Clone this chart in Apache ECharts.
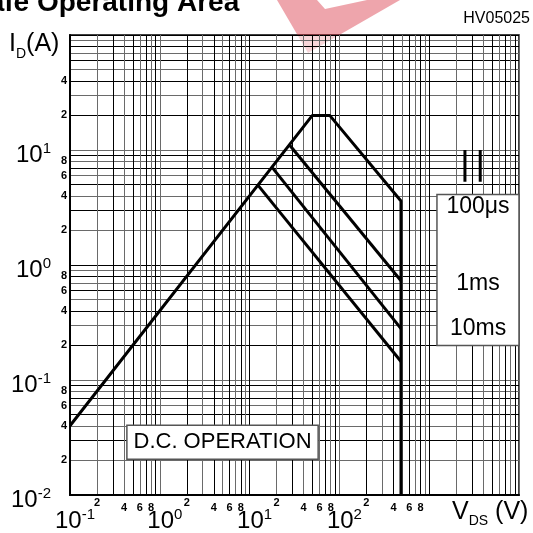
<!DOCTYPE html>
<html>
<head>
<meta charset="utf-8">
<title>Safe Operating Area</title>
<script src="https://cdn.jsdelivr.net/npm/echarts@6.0.0/dist/echarts.min.js"></script>
<style>
  html, body { margin: 0; padding: 0; background: #fff; }
  #chart { width: 533px; height: 533px; }
</style>
</head>
<body>
<div id="chart"></div>
<script>
const FONT = '"Liberation Sans", Arial, sans-serif'

// axis extents (log-log)
const vdsMin = 0.1, vdsMax = 10000
const idMin = 0.01, idMax = 100

// decades + steps inside a decade (grid lines, tick labels)
const vdsDecades = [0.1, 1, 10, 100, 1000]
const idDecades = [0.01, 0.1, 1, 10]
const gridSteps = [1, 2, 3, 4, 5, 6, 7, 8, 9]
const labelSteps = [2, 4, 6, 8]
const vdsLabelDecades = [0.1, 1, 10, 100]
const idLabelDecades = [0.01, 0.1, 1, 10]

// SOA limits, [V_DS (V), I_D (A)]
const limit100us = [[0.1, 0.04], [50, 20], [78, 20], [485, 3.6], [485, 0.01]]
const limit1ms = [[28, 11], [485, 0.73]]
const limit10ms = [[18, 7], [485, 0.28]]
const limitDC = [[12.5, 4.9], [485, 0.145]]
// two short heavy strokes in the right margin
const strokeA = [[2500, 10], [2500, 5.3]]
const strokeB = [[3700, 10], [3700, 5.3]]

// curve names and where they are written
const curveLabels = ['100μs', '1ms', '10ms']
const curveLabelAt = [[3500, 3.2], [3500, 0.69], [3500, 0.28]]
// white panels behind the texts
const legendPanel = [[1220, 4.1], [10000, 0.2]]
const dcPanel = [[0.43, 0.0404], [58, 0.0205]]

const clean = (v) => +v.toPrecision(3)
const vdsGrid = vdsDecades.flatMap((d) => gridSteps.map((s) => clean(d * s))).concat(vdsMax)
const idGrid = idDecades.flatMap((d) => gridSteps.map((s) => clean(d * s))).concat(idMax)
const vdsMinorLabels = vdsLabelDecades.flatMap((d) => labelSteps.map((s) => clean(d * s)))
const idMinorLabels = idDecades
  .flatMap((d) => labelSteps.map((s) => clean(d * s)))
  .filter((v) => v < 50)

const gridColors = ['#000', '#6a6a6a']

const leadDigit = (v) => Math.round(v / Math.pow(10, Math.floor(Math.log10(v) + 1e-9)))
const decadeText = (v) => `{b|10}{e|${Math.round(Math.log10(v))}}`
const decadeRich = {
  b: { fontFamily: FONT, fontSize: 24, color: '#000', lineHeight: 28 },
  e: { fontFamily: FONT, fontSize: 15, color: '#000', verticalAlign: 'top', lineHeight: 28 },
}
const minorStyle = { fontFamily: FONT, fontSize: 11, fontWeight: 'bold', color: '#000' }

const chart = echarts.init(document.getElementById('chart'), null, { renderer: 'canvas' })

const lineStyle = { color: '#000', width: 3 }
const curve = (name, data, extra) =>
  Object.assign({
    name,
    type: 'line',
    data,
    showSymbol: false,
    silent: true,
    animation: false,
    z: 5,
    lineStyle,
  }, extra || {})

const panelArea = (box, text, labelSize) => ({
  silent: true,
  itemStyle: { color: '#fff', borderColor: '#555', borderWidth: 1.5 },
  label: text
    ? { show: true, position: 'inside', formatter: text, fontFamily: FONT, fontSize: labelSize, color: '#000' }
    : { show: false },
  data: [[{ coord: box[0] }, { coord: box[1] }]],
})

chart.setOption({
  animation: false,
  backgroundColor: '#fff',
  grid: {
    left: 70, right: 14, top: 35, bottom: 36,
    show: true, borderColor: '#000', borderWidth: 1.5, backgroundColor: 'transparent',
  },
  xAxis: [
    {
      type: 'log', logBase: 10, min: vdsMin, max: vdsMax, position: 'bottom',
      axisLine: { show: true, lineStyle: { color: '#000', width: 2 } },
      axisTick: { show: false, customValues: vdsGrid },
      splitLine: { show: true, lineStyle: { color: gridColors, width: 1 } },
      axisLabel: {
        customValues: vdsMinorLabels,
        margin: 3,
        formatter: (v) => (leadDigit(v) === 2 ? `{hi|2}` : `{lo|${leadDigit(v)}}`),
        rich: {
          hi: Object.assign({ lineHeight: 10 }, minorStyle),
          lo: Object.assign({ lineHeight: 20 }, minorStyle),
        },
      },
    },
    {
      type: 'log', logBase: 10, min: vdsMin, max: vdsMax, position: 'bottom',
      axisLine: { show: false }, axisTick: { show: false }, splitLine: { show: false },
      axisLabel: {
        customValues: vdsLabelDecades,
        margin: 12,
        padding: [0, 0, 0, 10],
        formatter: decadeText,
        rich: decadeRich,
      },
    },
  ],
  yAxis: [
    {
      type: 'log', logBase: 10, min: idMin, max: idMax, position: 'left',
      axisLine: { show: true, lineStyle: { color: '#000', width: 2 } },
      axisTick: { show: false, customValues: idGrid },
      splitLine: { show: true, lineStyle: { color: gridColors, width: 1 } },
      axisLabel: Object.assign({
        customValues: idMinorLabels,
        margin: 3,
        formatter: (v) => String(leadDigit(v)),
      }, minorStyle),
    },
    {
      type: 'log', logBase: 10, min: idMin, max: idMax, position: 'left',
      axisLine: { show: false }, axisTick: { show: false }, splitLine: { show: false },
      axisLabel: {
        customValues: idLabelDecades,
        margin: 19,
        padding: [10, 0, 0, 0],
        formatter: decadeText,
        rich: decadeRich,
      },
    },
  ],
  series: [
    curve('100μs', limit100us, {
      markArea: panelArea(legendPanel, '', 0),
      markPoint: {
        silent: true,
        symbol: 'rect',
        symbolSize: 1,
        itemStyle: { color: 'transparent' },
        label: { show: true, position: 'inside', fontFamily: FONT, fontSize: 23, color: '#000' },
        data: curveLabels.map((t, i) => ({ coord: curveLabelAt[i], label: { formatter: t } })),
      },
    }),
    curve('1ms', limit1ms),
    curve('10ms', limit10ms),
    curve('DC', limitDC, { markArea: panelArea(dcPanel, 'D.C. OPERATION', 22) }),
    curve('strokeA', strokeA),
    curve('strokeB', strokeB),
  ],
  graphic: [
    {
      type: 'text', x: -30, y: 17,
      style: { text: 'Safe Operating Area', font: `bold 28px ${FONT}`, fill: '#000', verticalAlign: 'bottom' },
    },
    {
      type: 'text', x: 530, y: 19,
      style: { text: 'HV05025', font: `16px ${FONT}`, fill: '#000', align: 'right', verticalAlign: 'middle' },
    },
    {
      type: 'text', x: 9, y: 61,
      style: {
        text: '{m|I}{s|D}{m|(A)}',
        verticalAlign: 'bottom',
        rich: {
          m: { fontFamily: FONT, fontSize: 25, fill: '#000', lineHeight: 29, verticalAlign: 'top' },
          s: { fontFamily: FONT, fontSize: 14, fill: '#000', lineHeight: 29, verticalAlign: 'bottom' },
        },
      },
    },
    {
      type: 'text', x: 452, y: 528,
      style: {
        text: '{m|V}{s|DS}{m| (V)}',
        verticalAlign: 'bottom',
        rich: {
          m: { fontFamily: FONT, fontSize: 25, fill: '#000', lineHeight: 28, verticalAlign: 'top' },
          s: { fontFamily: FONT, fontSize: 14, fill: '#000', lineHeight: 28, verticalAlign: 'bottom' },
        },
      },
    },
    // watermark
    {
      type: 'polygon', silent: true,
      shape: { points: [[277, 0], [308, 53], [400, 0], [367, 0], [325, 9], [317, 0]] },
      style: { fill: 'rgba(214, 40, 57, 0.42)' },
    },
    {
      type: 'polygon', silent: true,
      shape: { points: [[292, 36], [345, 36], [318, 80], [304, 80]] },
      style: { fill: 'rgba(255, 255, 255, 0.55)' },
    },
  ],
})
</script>
</body>
</html>
